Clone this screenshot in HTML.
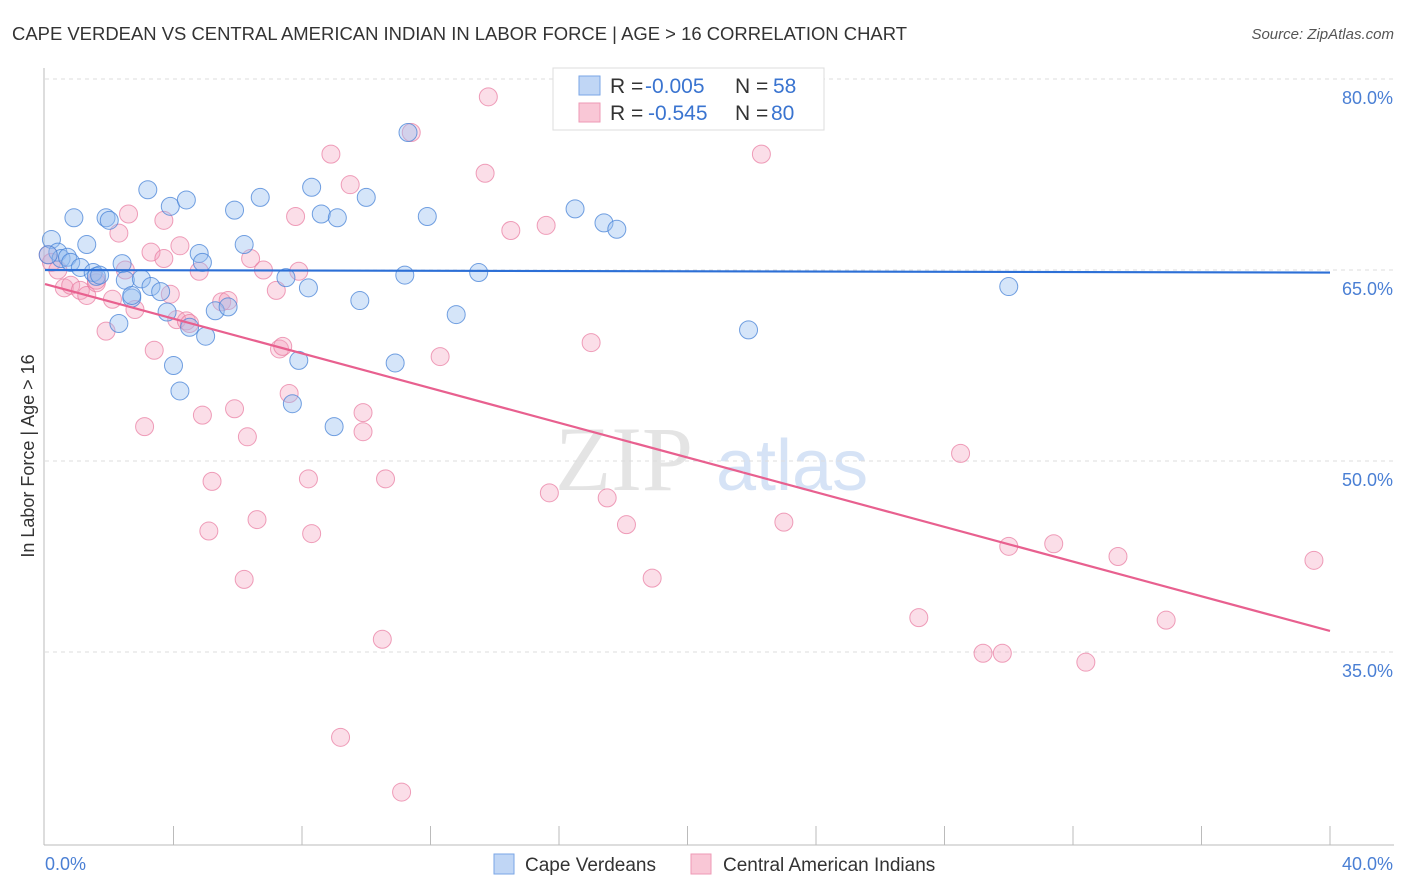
<!DOCTYPE html>
<html><head><meta charset="utf-8"><style>
body{margin:0;background:#fff;width:1406px;height:892px;overflow:hidden;font-family:"Liberation Sans",sans-serif}
</style></head><body>
<svg id="chart" width="1406" height="892" style="position:absolute;left:0;top:0">
<text x="12" y="40" font-size="18" fill="#333" textLength="895" lengthAdjust="spacingAndGlyphs">CAPE VERDEAN VS CENTRAL AMERICAN INDIAN IN LABOR FORCE | AGE &gt; 16 CORRELATION CHART</text>
<text x="1394" y="39" font-size="15" fill="#555" font-style="italic" text-anchor="end">Source: ZipAtlas.com</text>
<g>
<text x="555" y="490" font-size="92" fill="#e4e4e4" font-family="Liberation Serif,serif">ZIP</text>
<text x="716" y="490" font-size="72" fill="#d6e3f6">atlas</text>
</g>
<g id="grid"></g>
<g id="axes"></g>
<g id="pts"></g>
<g id="lines"></g>
<text transform="translate(34,456) rotate(-90)" font-size="18" fill="#333" text-anchor="middle">In Labor Force | Age &gt; 16</text>
<g>
<rect x="553" y="68" width="271" height="62" fill="#fff" stroke="#ddd"/>
<rect x="579" y="76" width="21" height="19" fill="#c0d6f5" stroke="#7aa6e6"/>
<rect x="579" y="103" width="21" height="19" fill="#f9c7d6" stroke="#ee9ab5"/>
<text x="610" y="93" font-size="21" fill="#333">R = <tspan x="645" fill="#3a74d0">-0.005</tspan><tspan x="735">N = </tspan><tspan x="773" fill="#3a74d0">58</tspan></text>
<text x="610" y="120" font-size="21" fill="#333">R = <tspan x="648" fill="#3a74d0">-0.545</tspan><tspan x="735">N = </tspan><tspan x="771" fill="#3a74d0">80</tspan></text>
</g>
<g>
<rect x="494" y="854" width="20" height="20" fill="#c0d6f5" stroke="#7aa6e6"/>
<text x="525" y="871" font-size="19" fill="#333">Cape Verdeans</text>
<rect x="691" y="854" width="20" height="20" fill="#f9c7d6" stroke="#ee9ab5"/>
<text x="723" y="871" font-size="19" fill="#333">Central American Indians</text>
</g>
</svg>
<script>
const yTicks=[80,65,50,35];
const xTickLabels=["0.0%","40.0%"];
const blueX=[0.2,0.4,0.5,0.9,0.7,0.8,1.1,1.3,1.5,1.6,1.9,2.0,2.4,2.3,2.5,2.7,2.7,3.0,3.2,3.3,3.6,3.8,3.9,4.0,4.2,4.4,4.5,4.8,4.9,5.0,5.3,5.7,5.9,6.2,6.7,7.5,7.7,7.9,8.2,8.3,8.6,9.1,9.0,9.8,10.0,10.9,11.2,11.3,11.9,12.8,13.5,16.5,17.4,17.8,21.9,30.0,0.1,1.7];
const blueY=[67.4,66.4,65.9,69.1,66.0,65.6,65.2,67.0,64.8,64.5,69.1,68.9,65.5,60.8,64.2,62.8,63.0,64.3,71.3,63.7,63.3,61.7,70.0,57.5,55.5,70.5,60.5,66.3,65.6,59.8,61.8,62.1,69.7,67.0,70.7,64.4,54.5,57.9,63.6,71.5,69.4,69.1,52.7,62.6,70.7,57.7,64.6,75.8,69.2,61.5,64.8,69.8,68.7,68.2,60.3,63.7,66.2,64.6];
const pinkX=[0.1,0.2,0.4,0.6,0.8,1.1,1.3,1.6,1.6,1.9,2.1,2.3,2.5,2.6,2.8,3.1,3.3,3.4,3.7,3.7,3.9,4.1,4.2,4.4,4.5,4.8,4.9,5.1,5.2,5.5,5.7,5.9,6.2,6.3,6.4,6.6,6.8,7.2,7.3,7.4,7.6,7.8,7.9,8.2,8.3,8.9,9.2,9.5,9.9,9.9,10.5,10.6,11.1,11.4,12.3,13.7,13.8,14.5,15.6,15.7,17.0,17.5,18.1,18.9,22.3,23.0,27.2,28.5,29.2,29.8,30.0,31.4,32.4,33.4,34.9,39.5];
const pinkY=[66.2,65.6,65.0,63.6,63.8,63.4,63.0,64.0,64.2,60.2,62.7,67.9,65.0,69.4,61.9,52.7,66.4,58.7,68.9,65.9,63.1,61.1,66.9,61.0,60.8,64.9,53.6,44.5,48.4,62.5,62.6,54.1,40.7,51.9,65.9,45.4,65.0,63.4,58.8,59.0,55.3,69.2,64.9,48.6,44.3,74.1,28.3,71.7,52.3,53.8,36.0,48.6,24.0,75.8,58.2,72.6,78.6,68.1,68.5,47.5,59.3,47.1,45.0,40.8,74.1,45.2,37.7,50.6,34.9,34.9,43.3,43.5,34.2,42.5,37.5,42.2];
const blueTrend=[65.0,64.8];
const pinkTrend=[63.9,36.65];
const NS="http://www.w3.org/2000/svg";
const X0=45,X1=1330;
function sx(v){return X0+(v/40)*(X1-X0);}
function sy(v){return 79+(80-v)*(191/15);}
function mk(tag,attrs,parent){const e=document.createElementNS(NS,tag);for(const k in attrs)e.setAttribute(k,attrs[k]);document.getElementById(parent).appendChild(e);return e;}
yTicks.forEach(t=>{
 const l=mk('line',{x1:45,x2:1394,y1:sy(t),y2:sy(t),stroke:'#ddd','stroke-dasharray':'4,4'},'grid');
 
 
 const tx=mk('text',{x:1393,y:sy(t)+25,'font-size':18,fill:'#4a7fd4','text-anchor':'end'},'grid');
 tx.textContent=t.toFixed(1)+'%';
 
 
});
mk('line',{x1:44,x2:44,y1:68,y2:845,stroke:'#bbb'},'axes');
mk('line',{x1:44,x2:1394,y1:845,y2:845,stroke:'#bbb'},'axes');
for(let i=1;i<=10;i++){const x=sx(i*4);mk('line',{x1:x,x2:x,y1:826,y2:845,stroke:'#bbb'},'axes');}
const xl0=mk('text',{x:45,y:870,'font-size':18,fill:'#4a7fd4'},'axes');xl0.textContent=xTickLabels[0];


const xl1=mk('text',{x:1393,y:870,'font-size':18,fill:'#4a7fd4','text-anchor':'end'},'axes');xl1.textContent=xTickLabels[1];


pinkX.forEach((v,i)=>{const c=mk('circle',{cx:sx(v),cy:sy(pinkY[i]),r:9,fill:'rgba(244,160,188,0.35)',stroke:'rgba(232,120,158,0.7)','stroke-width':1},'pts');
 
 });
blueX.forEach((v,i)=>{const c=mk('circle',{cx:sx(v),cy:sy(blueY[i]),r:9,fill:'rgba(150,190,240,0.4)',stroke:'rgba(70,130,215,0.75)','stroke-width':1},'pts');
 
 });
const bl=mk('line',{x1:sx(0),x2:sx(40),y1:sy(blueTrend[0]),y2:sy(blueTrend[1]),stroke:'#2c6fd6','stroke-width':2.2},'lines');


const pl=mk('line',{x1:sx(0),x2:sx(40),y1:sy(pinkTrend[0]),y2:sy(pinkTrend[1]),stroke:'#e8608f','stroke-width':2.2},'lines');


</script>
</body></html>
